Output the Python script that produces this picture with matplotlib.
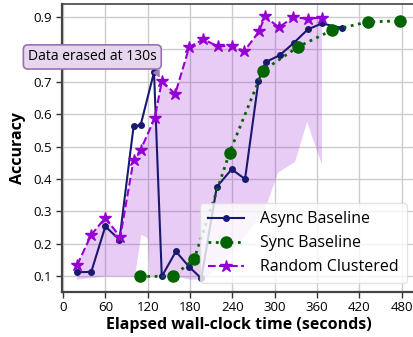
import numpy as np
import matplotlib
matplotlib.use("Agg")
import matplotlib.pyplot as plt

plt.rcParams['font.family'] = ['Open Sans', 'DejaVu Sans']

# Async Baseline
async_t = [20, 40, 60, 80, 100, 110, 129, 140, 160, 179, 196, 218, 239, 258, 277, 287, 307, 327, 347, 367, 396]
async_acc = [0.113, 0.114, 0.254, 0.213, 0.562, 0.566, 0.729, 0.100, 0.177, 0.129, 0.094, 0.376, 0.430, 0.400,
             0.702, 0.760, 0.781, 0.819, 0.861, 0.879, 0.865]

# Sync Baseline
sync_t = [109, 156, 186, 236, 283, 333, 381, 432, 478]
sync_acc = [0.100, 0.100, 0.154, 0.481, 0.733, 0.807, 0.858, 0.884, 0.887]

# Random Clustered (line = upper edge of band)
rand_t = [20, 40, 60, 81, 100, 110, 130, 140, 159, 179, 199, 219, 239, 257, 278, 286, 306, 326, 347, 367]
rand_acc = [0.135, 0.228, 0.281, 0.221, 0.458, 0.490, 0.587, 0.701, 0.662, 0.807, 0.830, 0.809, 0.810, 0.794,
            0.855, 0.901, 0.867, 0.898, 0.894, 0.897]

# lower edge of the shaded band
band_t = [20, 40, 60, 80, 102, 111, 120, 123, 140, 160, 180, 200, 220, 240, 260, 286, 305, 329, 346, 367]
band_lo = [0.090, 0.095, 0.100, 0.100, 0.100, 0.228, 0.218, 0.100, 0.100, 0.100, 0.090, 0.090, 0.130, 0.180,
           0.230, 0.305, 0.420, 0.453, 0.576, 0.443]

W, H = 413, 337
fig = plt.figure(figsize=(W / 100, H / 100), dpi=100)
ax = fig.add_axes([61.6 / W, (H - 291.7) / H, (415.8 - 61.6) / W, (291.7 - 4) / H])

ax.fill(np.concatenate([rand_t, band_t[::-1]]), np.concatenate([rand_acc, band_lo[::-1]]),
        color='darkviolet', alpha=0.2, lw=0, zorder=1)

ax.plot(async_t, async_acc, color='midnightblue', lw=1.5, marker='o', ms=4,
        label='Async Baseline', zorder=3)
ax.plot(sync_t, sync_acc, color='darkgreen', lw=2, ls=':', marker='o', ms=8,
        label='Sync Baseline', zorder=3)
ax.plot(rand_t, rand_acc, color='darkviolet', lw=1.5, ls='--', marker='*', ms=9,
        label='Random Clustered', zorder=3)

ax.annotate('Data erased at 130s', xy=(140, 0.70), xytext=(41.5, 0.776),
            ha='center', va='center', fontsize=10,
            bbox=dict(boxstyle='round,pad=0.33', fc='#e6d6ee', ec='#9a70b5', lw=1.2),
            arrowprops=dict(arrowstyle='-|>', color='#a07cb8', lw=1.2, relpos=(0.97, 0.0),
                            shrinkB=3, mutation_scale=10),
            zorder=5, annotation_clip=False)

ax.set_xlim(-2, 500)
ax.set_ylim(0.053, 0.939)
ax.set_xticks(np.arange(0, 481, 60))
ax.set_yticks(np.arange(0.1, 0.91, 0.1))
ax.set_yticklabels(['%.1f' % v for v in np.arange(0.1, 0.91, 0.1)])
ax.tick_params(labelsize=9.5, length=4, width=1, color='#333333', pad=3)
ax.grid(True, color='#cccccc', lw=1)
ax.set_axisbelow(True)
for s in ax.spines.values():
    s.set_color('#444444')
    s.set_linewidth(1.2)
ax.spines['left'].set_linewidth(1.6)
ax.spines['bottom'].set_linewidth(1.6)

ax.set_xlabel('Elapsed wall-clock time (seconds)', fontsize=11.5, fontweight='bold', labelpad=2)
ax.set_ylabel('Accuracy', fontsize=11.5, fontweight='bold', labelpad=5)

ax.legend(loc='lower right', bbox_to_anchor=(0.975, 0.029), borderaxespad=0, fontsize=11.5,
          handlelength=2.3, handletextpad=1.0, framealpha=0.8, edgecolor='#dddddd',
          borderpad=0.5, labelspacing=0.5)

fig.savefig('out.png', dpi=100)
